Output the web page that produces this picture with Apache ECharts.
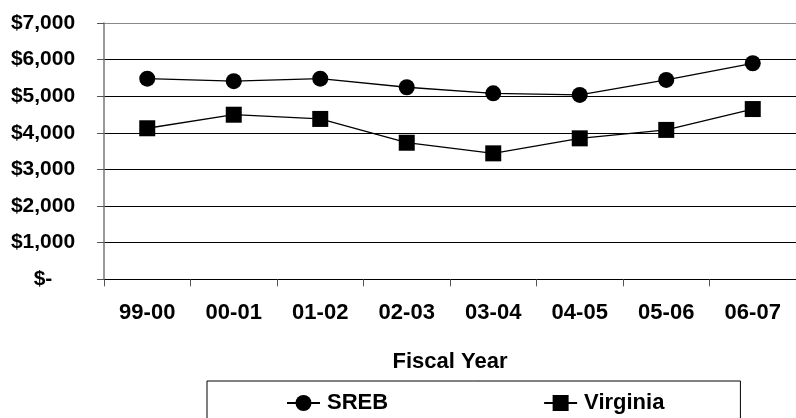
<!DOCTYPE html>
<html>
<head>
<meta charset="utf-8">
<script src="https://cdn.jsdelivr.net/npm/echarts@6/dist/echarts.min.js"></script>
<style>
  html, body { margin: 0; padding: 0; background: #fff; }
  #chart { width: 796px; height: 418px; }
</style>
</head>
<body>
<div id="chart"></div>
<script>
// fiscal years on the x axis
var years = ['99-00', '00-01', '01-02', '02-03', '03-04', '04-05', '05-06', '06-07'];
// values (dollars)
var sreb = [5480, 5410, 5480, 5245, 5080, 5035, 5445, 5900];
var virginia = [4125, 4495, 4380, 3730, 3440, 3850, 4080, 4650];
// y axis range
var yMin = 0, yMax = 7000, yStep = 1000;

var font = '"Liberation Sans", Arial, sans-serif';

var chart = echarts.init(document.getElementById('chart'));
chart.setOption({
  animation: false,
  textStyle: { fontFamily: font, color: '#000' },
  grid: { left: 104, top: 23, width: 701, height: 256.3 },
  legend: {
    left: 207,
    top: 381,
    padding: [11, 76, 40, 79],
    itemGap: 155,
    itemWidth: 33,
    itemHeight: 20,
    borderColor: '#000',
    borderWidth: 1,
    textStyle: { fontSize: 22, fontWeight: 'bold', color: '#000', padding: [0, 0, 0, 2] },
    data: ['SREB', 'Virginia']
  },
  xAxis: {
    type: 'category',
    data: years,
    boundaryGap: true,
    name: 'Fiscal Year',
    nameLocation: 'middle',
    nameGap: 72,
    nameTextStyle: { fontSize: 22, fontWeight: 'bold', color: '#000' },
    axisLine: { lineStyle: { color: '#000', width: 1 } },
    axisTick: { show: true, length: 7, lineStyle: { color: '#555' } },
    axisLabel: { fontSize: 22, fontWeight: 'bold', color: '#000', margin: 23 }
  },
  yAxis: {
    type: 'value',
    min: yMin,
    max: yMax,
    interval: yStep,
    axisLine: { show: true, lineStyle: { color: '#777', width: 1.5 } },
    axisTick: { show: true, length: 7, lineStyle: { color: '#555' } },
    axisLabel: {
      fontSize: 21,
      fontWeight: 'bold',
      color: '#000',
      align: 'center',
      margin: 61,
      formatter: function (v) {
        return v === 0 ? '$-' : '$' + v.toLocaleString('en-US');
      }
    },
    splitLine: {
      lineStyle: { color: ['#000', '#000', '#000', '#000', '#000', '#000', '#000', '#888'], width: 1 }
    }
  },
  series: [
    {
      name: 'SREB',
      type: 'line',
      data: sreb,
      symbol: 'circle',
      symbolSize: 16,
      itemStyle: { color: '#000' },
      lineStyle: { color: '#000', width: 1.3 }
    },
    {
      name: 'Virginia',
      type: 'line',
      data: virginia,
      symbol: 'rect',
      symbolSize: 16,
      itemStyle: { color: '#000' },
      lineStyle: { color: '#000', width: 1.3 }
    }
  ]
});
</script>
</body>
</html>
